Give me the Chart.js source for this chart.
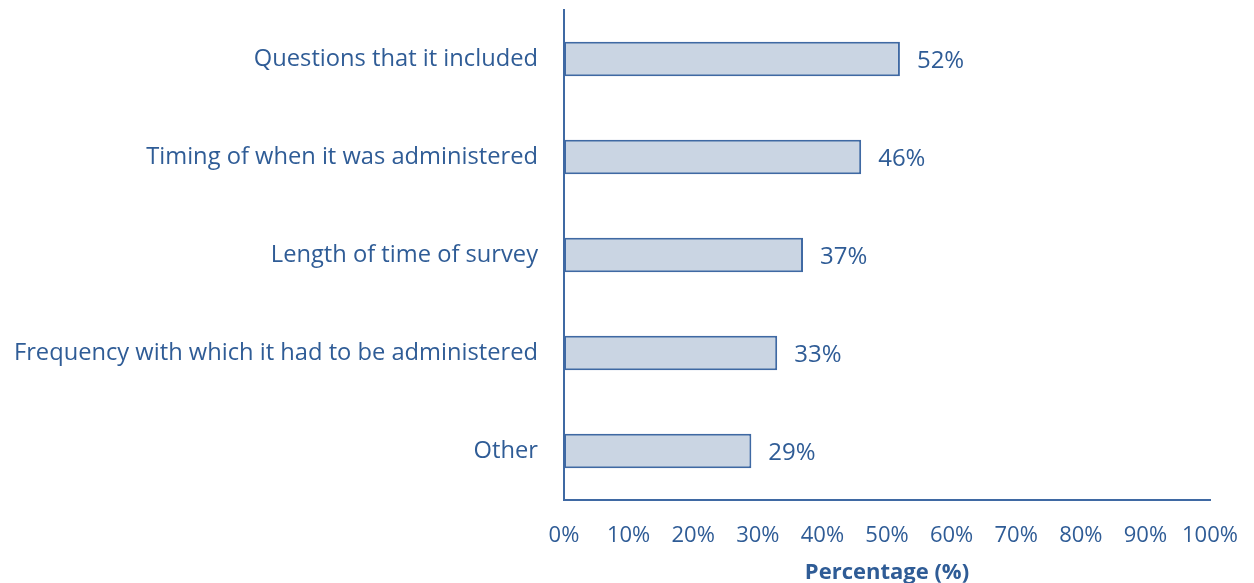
<!DOCTYPE html>
<html>
<head>
<meta charset="utf-8">
<script src="https://cdn.jsdelivr.net/npm/chart.js@4/dist/chart.umd.min.js"></script>
<style>
  html, body { margin: 0; padding: 0; background: #fff; }
  #wrap { width: 1254px; height: 583px; }
</style>
</head>
<body>
<div id="wrap"><canvas id="surveyChart" width="1254" height="583"></canvas></div>
<script>
const categories = [
    'Questions that it included',
    'Timing of when it was administered',
    'Length of time of survey',
    'Frequency with which it had to be administered',
    'Other'
];
const percentages = [52, 46, 37, 33, 29];
const tickValues = [0, 10, 20, 30, 40, 50, 60, 70, 80, 90, 100];

const textBlue = '#2F5C96';
const lineBlue = '#3F69A3';
const fontFamily = '"Open Sans", sans-serif';

// draws "52%" etc. just past the end of each bar
const valueLabels = {
    id: 'valueLabels',
    afterDatasetsDraw(chart) {
        const ctx = chart.ctx;
        const meta = chart.getDatasetMeta(0);
        ctx.save();
        ctx.font = '24px ' + fontFamily;
        ctx.fillStyle = textBlue;
        ctx.textAlign = 'left';
        ctx.textBaseline = 'middle';
        meta.data.forEach((bar, i) => {
            ctx.fillText(percentages[i] + '%', bar.x + 17, bar.y + 2);
        });
        ctx.restore();
    }
};

new Chart(document.getElementById('surveyChart'), {
    type: 'bar',
    data: {
        labels: categories,
        datasets: [{
            data: percentages,
            backgroundColor: '#CAD5E3',
            borderColor: lineBlue,
            borderWidth: 2,
            borderSkipped: false,
            categoryPercentage: 1,
            barPercentage: 0.35
        }]
    },
    options: {
        indexAxis: 'y',
        responsive: false,
        animation: false,
        layout: { padding: { left: 10, right: 44, top: 10, bottom: 4 } },
        plugins: {
            legend: { display: false },
            tooltip: { enabled: false }
        },
        scales: {
            x: {
                min: 0,
                max: 100,
                afterBuildTicks(axis) {
                    axis.ticks = tickValues.map(v => ({ value: v }));
                },
                afterFit(axis) {
                    axis.height = 79;
                    axis.paddingLeft = 0;
                    axis.paddingRight = 0;
                },
                grid: { display: false, drawTicks: false },
                border: { color: lineBlue, width: 2 },
                ticks: {
                    color: textBlue,
                    padding: 23,
                    maxRotation: 0,
                    font: { family: fontFamily, size: 22 },
                    callback: v => v + '%'
                },
                title: {
                    display: true,
                    text: 'Percentage (%)',
                    color: textBlue,
                    padding: { top: 13, bottom: -7 },
                    font: { family: fontFamily, size: 22, weight: 'bold' }
                }
            },
            y: {
                afterFit(axis) {
                    axis.width = 554;
                    axis.paddingTop = 0;
                    axis.paddingBottom = 0;
                },
                grid: { display: false, drawTicks: false },
                border: { color: lineBlue, width: 2 },
                ticks: {
                    color: textBlue,
                    padding: 26,
                    font: { family: fontFamily, size: 23.7 }
                }
            }
        }
    },
    plugins: [valueLabels]
});
</script>
</body>
</html>
